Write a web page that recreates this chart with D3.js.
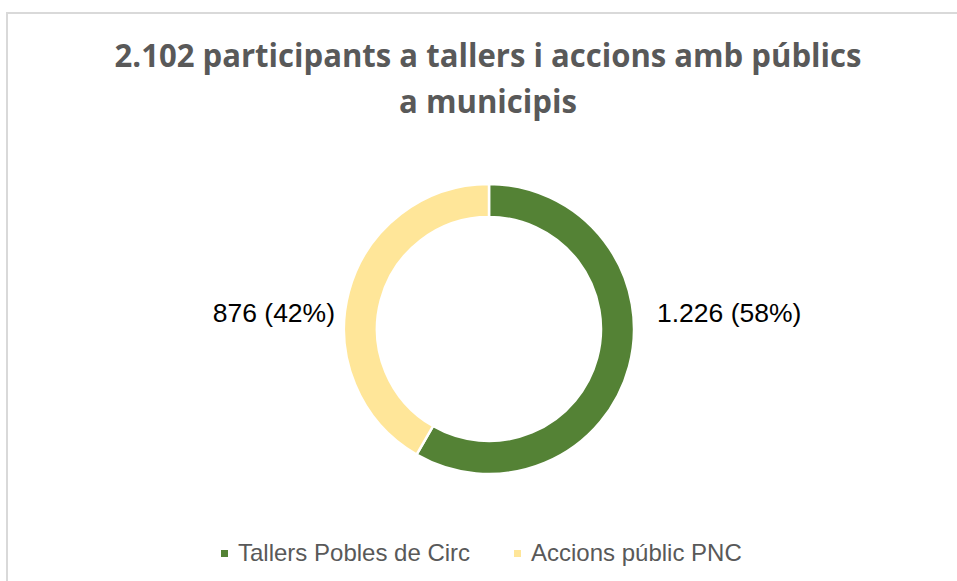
<!DOCTYPE html>
<html lang="ca">
<head>
  <meta charset="UTF-8">
  <title>Participants</title>
  <script src="https://d3js.org/d3.v7.min.js"></script>
  <style>
    body { margin: 0; background: #fff; }
  </style>
</head>
<body>
  <div id="container"></div>
  <script>
    const titleLines = ['2.102 participants a tallers i accions amb públics', 'a municipis']
    const categories = ['Tallers Pobles de Circ', 'Accions públic PNC']
    const values = [1226, 876]
    const labels = ['1.226 (58%)', '876 (42%)']
    const colors = ['#548235', '#FFE699']

    const W = 957, H = 581
    const cx = 489, cy = 329, outerR = 145, innerR = 112

    const svg = d3.select('#container').append('svg')
      .attr('width', W)
      .attr('height', H)

    // frame (top + left edge visible)
    svg.append('rect')
      .attr('x', 7).attr('y', 13)
      .attr('width', W + 20).attr('height', H + 20)
      .attr('fill', 'none')
      .attr('stroke', '#d9d9d9')
      .attr('stroke-width', 2)

    // title
    const titleWidths = [747, 178]
    svg.selectAll('text.title')
      .data(titleLines)
      .enter()
      .append('text')
        .attr('class', 'title')
        .attr('x', 488)
        .attr('y', (d, i) => 67 + i * 46)
        .attr('text-anchor', 'middle')
        .attr('font-family', 'Open Sans, sans-serif')
        .attr('font-weight', 'bold')
        .attr('font-size', 31.5)
        .attr('fill', '#595959')
        .attr('textLength', (d, i) => titleWidths[i])
        .attr('lengthAdjust', 'spacingAndGlyphs')
        .text(d => d)

    // donut
    const pie = d3.pie().sort(null).value(d => d)
    const arc = d3.arc().innerRadius(innerR).outerRadius(outerR)
    const arcs = pie(values)

    const g = svg.append('g').attr('transform', `translate(${cx},${cy})`)
    g.selectAll('path')
      .data(arcs)
      .enter()
      .append('path')
        .attr('d', arc)
        .attr('fill', (d, i) => colors[i])
        .attr('stroke', '#fff')
        .attr('stroke-width', 2.5)

    // data labels, placed beside the ring on the side of each slice
    g.selectAll('text.lbl')
      .data(arcs)
      .enter()
      .append('text')
        .attr('class', 'lbl')
        .attr('x', d => {
          const mid = (d.startAngle + d.endAngle) / 2
          return Math.sin(mid) > 0 ? outerR + 23 : -outerR - 9
        })
        .attr('y', -7)
        .attr('text-anchor', d => Math.sin((d.startAngle + d.endAngle) / 2) > 0 ? 'start' : 'end')
        .attr('font-family', 'Liberation Sans, Arial, sans-serif')
        .attr('font-size', 26.5)
        .attr('fill', '#000')
        .text((d, i) => labels[i])

    // legend
    const legendX = [221, 514]
    const lg = svg.selectAll('g.leg')
      .data(categories)
      .enter()
      .append('g')
        .attr('class', 'leg')
        .attr('transform', (d, i) => `translate(${legendX[i]},550)`)
    lg.append('rect')
      .attr('width', 7).attr('height', 7)
      .attr('fill', (d, i) => colors[i])
    lg.append('text')
      .attr('x', 17)
      .attr('y', 11)
      .attr('font-family', 'Liberation Sans, Arial, sans-serif')
      .attr('font-size', 24)
      .attr('fill', '#595959')
      .text(d => d)
  </script>
</body>
</html>
